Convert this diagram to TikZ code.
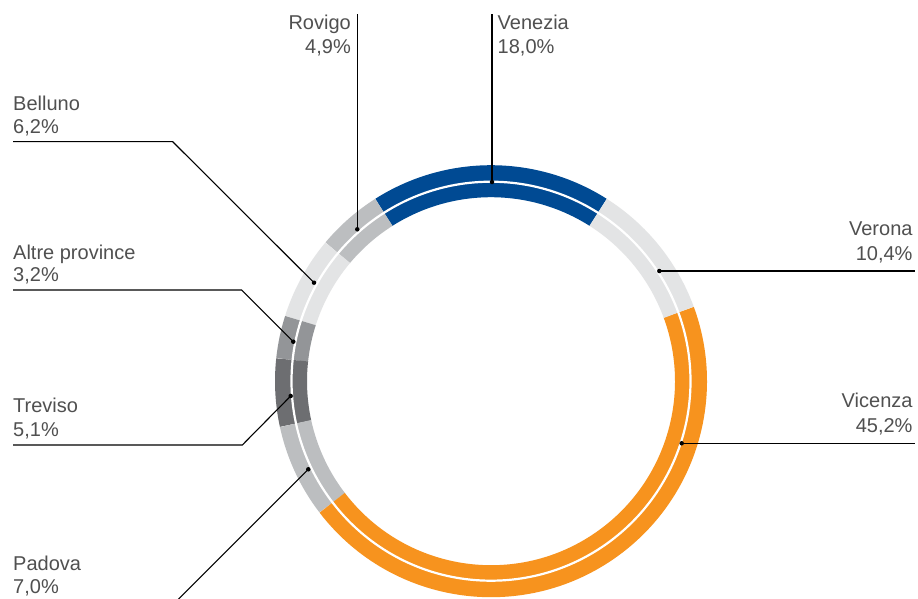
\documentclass[tikz,border=0pt]{standalone}
\usepackage{fontspec}
\setmainfont{Liberation Sans}
\definecolor{vblue}{HTML}{004A93}
\definecolor{vorange}{HTML}{F7931E}
\definecolor{glight}{HTML}{E3E4E5}
\definecolor{gmid}{HTML}{BCBEC0}
\definecolor{galtre}{HTML}{939598}
\definecolor{gdark}{HTML}{6D6E71}
\definecolor{txt}{HTML}{505050}
\begin{document}
\begin{tikzpicture}[x=1pt,y=-1pt,
  seg/.style={line width=32pt},
  lbl/.style={inner sep=0pt, font=\fontsize{20}{24}\selectfont, text=txt},
  lead/.style={line width=1.1pt, black},
  dot/.style={circle, fill=black, inner sep=0pt, minimum size=4.5pt}]
\useasboundingbox (0,0) rectangle (918,599);
\fill[white] (0,0) rectangle (918,599);
\coordinate (c) at (491,381.2);
% ring segments (visual angles, counter-clockwise)
\newcommand{\segarc}[3]{\draw[seg,#1] ([shift={(-#2:200)}]c) arc[start angle=-#2, end angle=-#3, radius=200];}
\segarc{vblue}{57.6}{122.4}
\segarc{gmid}{122.4}{140.04}
\segarc{glight}{140.04}{162.36}
\segarc{galtre}{162.36}{173.88}
\segarc{gdark}{173.88}{192.24}
\segarc{gmid}{192.24}{217.44}
\segarc{vorange}{217.44}{380.16}
\segarc{glight}{20.16}{57.6}
\draw[white, line width=2.2pt] (c) circle[radius=199.5];
% anchor points on the ring
\coordinate (dven) at (492,182);
\coordinate (dver) at (659.3,271);
\coordinate (dvic) at (681.7,443.3);
\coordinate (dpad) at (308.3,469.3);
\coordinate (dtre) at (290.7,396);
\coordinate (dalt) at (293.3,341.7);
\coordinate (dbel) at (314,282.7);
\coordinate (drov) at (357.3,229.3);
% leader ends
\coordinate (venTop) at (492,14);
\coordinate (rovTop) at (357.3,14);
\coordinate (belKnee) at (172.7,141.7);
\coordinate (belEnd) at (13,141.7);
\coordinate (altKnee) at (241.7,290);
\coordinate (altEnd) at (13,290);
\coordinate (treKnee) at (242.3,445);
\coordinate (treEnd) at (13,445);
\coordinate (padEnd) at (170,607.6);
\coordinate (verEnd) at (915,271);
\coordinate (vicEnd) at (915,443.3);
% leaders
\draw[lead] (dven) -- (venTop);
\draw[lead] (drov) -- (rovTop);
\draw[lead] (dbel) -- (belKnee) -- (belEnd);
\draw[lead] (dalt) -- (altKnee) -- (altEnd);
\draw[lead] (dtre) -- (treKnee) -- (treEnd);
\draw[lead] (dpad) -- (padEnd);
\draw[lead] (dver) -- (verEnd);
\draw[lead] (dvic) -- (vicEnd);
% dots
\foreach \p in {dven,dver,dvic,dpad,dtre,dalt,dbel,drov}
  \node[dot] at (\p) {};
% labels
\node[lbl, anchor=base east] (rovN) at (351,30) {Rovigo};
\node[lbl, anchor=base east] (rovP) at (351,54) {4,9\%};
\node[lbl, anchor=base west] (venN) at (497.5,30) {Venezia};
\node[lbl, anchor=base west] (venP) at (497.5,54) {18,0\%};
\node[lbl, anchor=base west] (belN) at (13,110.5) {Belluno};
\node[lbl, anchor=base west] (belP) at (13,133.5) {6,2\%};
\node[lbl, anchor=base west] (altN) at (13,259) {Altre province};
\node[lbl, anchor=base west] (altP) at (13,281) {3,2\%};
\node[lbl, anchor=base west] (treN) at (13,412.7) {Treviso};
\node[lbl, anchor=base west] (treP) at (13,436.7) {5,1\%};
\node[lbl, anchor=base west] (padN) at (13,570) {Padova};
\node[lbl, anchor=base west] (padP) at (13,593.3) {7,0\%};
\node[lbl, anchor=base east] (verN) at (912.7,235) {Verona};
\node[lbl, anchor=base east] (verP) at (912.7,260) {10,4\%};
\node[lbl, anchor=base east] (vicN) at (912.7,407) {Vicenza};
\node[lbl, anchor=base east] (vicP) at (912.7,432.5) {45,2\%};
\end{tikzpicture}
\end{document}
